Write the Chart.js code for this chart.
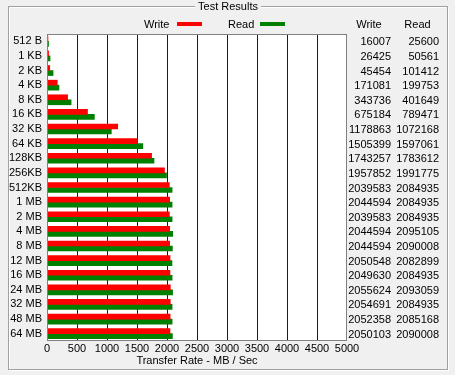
<!DOCTYPE html>
<html>
<head>
<meta charset="utf-8">
<script src="https://cdn.jsdelivr.net/npm/chart.js@4"></script>
<style>
  html, body { margin: 0; padding: 0; background: #f0f0f0; }
  #wrap { width: 455px; height: 375px; }
</style>
</head>
<body>
<div id="wrap"><canvas id="atto" width="455" height="375"></canvas></div>
<script>
// block sizes tested
const sizes = ['512 B', '1 KB', '2 KB', '4 KB', '8 KB', '16 KB', '32 KB', '64 KB', '128KB', '256KB',
  '512KB', '1 MB', '2 MB', '4 MB', '8 MB', '12 MB', '16 MB', '24 MB', '32 MB', '48 MB', '64 MB'];

// raw results (KB/s) as shown in the table on the right
const writeRates = [16007, 26425, 45454, 171081, 343736, 675184, 1178863, 1505399, 1743257, 1957852,
  2039583, 2044594, 2039583, 2044594, 2044594, 2050548, 2049630, 2055624, 2054691, 2052358, 2050103];
const readRates = [25600, 50561, 101412, 199753, 401649, 789471, 1072168, 1597061, 1783612, 1991775,
  2084935, 2084935, 2084935, 2095105, 2090008, 2082899, 2084935, 2093059, 2084935, 2085168, 2090008];

// x axis
const xMin = 0;
const xMax = 5000;
const xStep = 500;

const FONT_FAMILY = '"Liberation Sans", Arial, sans-serif';
const FONT = '11px ' + FONT_FAMILY;
const BG = '#f0f0f0';
const GRID_BLUE = '#0000ff';

// bars are in MB/s
const toMB = v => v / 1000;

const frame = {
  id: 'frame',
  beforeDraw(chart) {
    const c = chart.ctx;
    const a = chart.chartArea;
    c.save();
    c.fillStyle = BG;
    c.fillRect(0, 0, chart.width, chart.height);

    // etched group box
    c.lineWidth = 1;
    c.strokeStyle = '#ffffff';
    c.strokeRect(9.5, 7.5, 439, 363);
    c.strokeStyle = '#a0a0a0';
    c.strokeRect(8.5, 6.5, 439, 363);

    // group box caption
    c.font = FONT;
    c.textBaseline = 'middle';
    c.textAlign = 'center';
    const cap = 'Test Results';
    const w = c.measureText(cap).width;
    c.fillStyle = BG;
    c.fillRect(228 - w / 2 - 3, 0, w + 6, 12);
    c.fillStyle = '#000';
    c.fillText(cap, 228, 7);

    // legend
    c.textAlign = 'left';
    c.fillText('Write', 144, 24.5);
    c.fillStyle = '#ff0000';
    c.fillRect(177, 22, 25, 4);
    c.fillStyle = '#000';
    c.fillText('Read', 228, 24.5);
    c.fillStyle = '#008000';
    c.fillRect(260, 22, 25, 4);

    // plot background
    c.fillStyle = '#ffffff';
    c.fillRect(a.left, a.top, a.right - a.left, a.bottom - a.top);
    c.restore();
  },
  afterDraw(chart) {
    const c = chart.ctx;
    const a = chart.chartArea;
    const y = chart.scales.y;
    c.save();
    c.strokeStyle = '#808080';
    c.lineWidth = 1;
    c.strokeRect(a.left + 0.5, a.top + 0.5, a.right - a.left - 1, a.bottom - a.top - 1);

    // table of raw numbers
    c.font = FONT;
    c.fillStyle = '#000';
    c.textBaseline = 'middle';
    c.textAlign = 'center';
    c.fillText('Write', 369, 25);
    c.fillText('Read', 417.5, 25);
    c.textAlign = 'right';
    sizes.forEach((s, i) => {
      const py = y.getPixelForValue(i) + 1;
      c.fillText(String(writeRates[i]), 391, py);
      c.fillText(String(readRates[i]), 439, py);
    });
    c.restore();
  }
};

const tickCount = (xMax - xMin) / xStep + 1;
const gridColors = Array.from({ length: tickCount }, (_, i) =>
  (i === 0 || i === tickCount - 1) ? 'rgba(0,0,0,0)' : GRID_BLUE);

new Chart(document.getElementById('atto'), {
  type: 'bar',
  data: {
    labels: sizes,
    datasets: [
      { label: 'Write', data: writeRates.map(toMB), backgroundColor: '#ff0000', barThickness: 5 },
      { label: 'Read', data: readRates.map(toMB), backgroundColor: '#008000', barThickness: 5 }
    ]
  },
  options: {
    indexAxis: 'y',
    responsive: false,
    animation: false,
    layout: { padding: { left: 0, right: 108, top: 34, bottom: 0 } },
    plugins: {
      legend: { display: false },
      tooltip: { enabled: false }
    },
    scales: {
      x: {
        min: xMin,
        max: xMax,
        border: { display: false },
        grid: {
          drawTicks: false,
          lineWidth: 1,
          color: gridColors
        },
        ticks: {
          stepSize: xStep,
          autoSkip: false,
          maxRotation: 0,
          padding: 1,
          color: '#000',
          font: { family: FONT_FAMILY, size: 11 },
          callback: v => String(v)
        },
        title: {
          display: true,
          text: 'Transfer Rate - MB / Sec',
          color: '#000',
          padding: { top: 0, bottom: 7 },
          font: { family: FONT_FAMILY, size: 11 }
        },
        afterFit(scale) { scale.height = 34; }
      },
      y: {
        border: { display: false },
        grid: { display: false, drawTicks: false },
        ticks: {
          padding: 5,
          autoSkip: false,
          color: '#000',
          font: { family: FONT_FAMILY, size: 11 }
        },
        afterFit(scale) { scale.width = 47; }
      }
    }
  },
  plugins: [frame]
});
</script>
</body>
</html>
